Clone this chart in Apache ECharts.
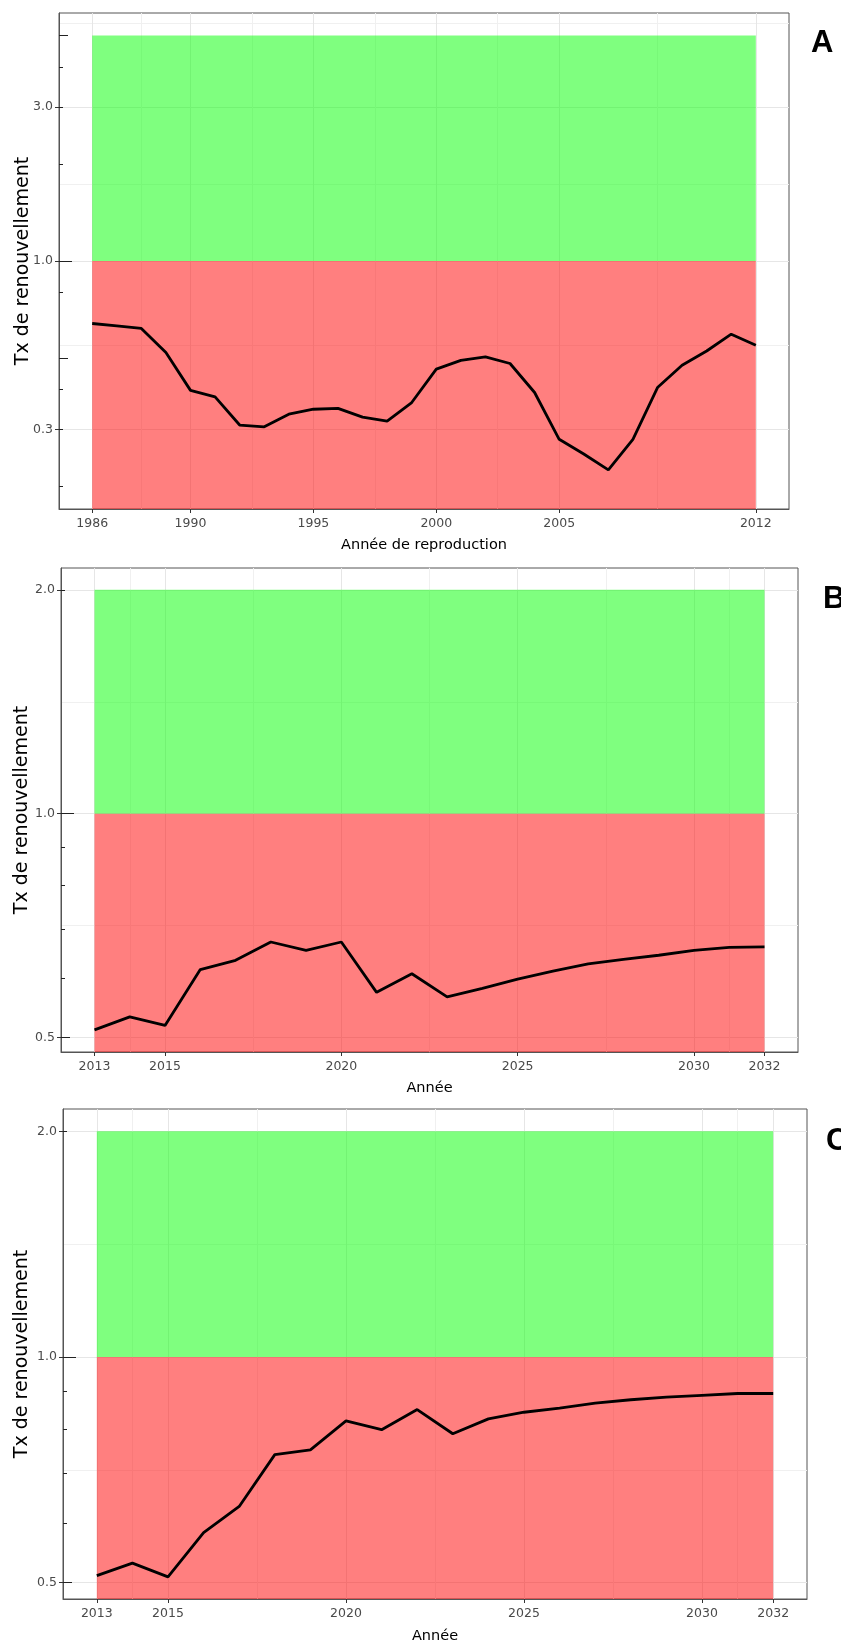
<!DOCTYPE html>
<html><head><meta charset="utf-8">
<script src="https://cdn.jsdelivr.net/npm/echarts@6/dist/echarts.min.js"></script>
<style>html,body{margin:0;padding:0;background:#fff}#c{width:841px;height:1645px}</style>
</head><body><div id="c"></div>
<script>
// ---------- data ----------
const yearsA = [1986,1987,1988,1989,1990,1991,1992,1993,1994,1995,1996,1997,1998,1999,2000,2001,2002,2003,2004,2005,2006,2007,2008,2009,2010,2011,2012,2013];
const valuesA = [0.640,0.629,0.618,0.520,0.397,0.379,0.310,0.306,0.335,0.347,0.349,0.328,0.319,0.364,0.462,0.492,0.504,0.481,0.391,0.280,0.252,0.225,0.280,0.405,0.475,0.526,0.593,0.548];
const yearsBC = [2013,2014,2015,2016,2017,2018,2019,2020,2021,2022,2023,2024,2025,2026,2027,2028,2029,2030,2031,2032];
const valuesB = [0.512,0.533,0.519,0.617,0.635,0.672,0.655,0.672,0.575,0.609,0.567,0.582,0.599,0.614,0.628,0.637,0.645,0.655,0.661,0.662];
const valuesC = [0.511,0.531,0.509,0.583,0.632,0.741,0.752,0.822,0.800,0.851,0.790,0.827,0.844,0.855,0.868,0.877,0.884,0.889,0.894,0.894];

const xTicksA = [1986,1990,1995,2000,2005,2013];
const xTickLabelsA = ['1986','1990','1995','2000','2005','2012'];
const xMinorA = [1988,1992.5,1997.5,2002.5,2009];
const xTicksBC = [2013,2015,2020,2025,2030,2032];
const xTickLabelsBC = ['2013','2015','2020','2025','2030','2032'];
const xMinorBC = [2014,2017.5,2022.5,2027.5,2031];

const yTicksA = [0.3,1,3];
const yMinorGridA = [0.5477,1.732,5.477];
const yLogTicksShortA = [0.2,0.3,0.4,0.8,2,3,4];
const yLogTicksLongA = [0.5,5];
const yTicksBC = [0.5,1,2];
const yMinorGridBC = [0.7071,1.4142];
const yLogTicksShortBC = [0.6,0.7,0.8,0.9,2];
const yLogTicksLongBC = [0.5];
const yLogTicksMajor = [1];

const threshold = 1;
const greenTopA = 5;
const greenTopBC = 2;
const redBottom = 0.01;

const panelLetters = ['A','B','C'];
const xTitles = ['Année de reproduction','Année','Année'];
const yTitle = 'Tx de renouvellement';

// ---------- layout ----------
const panels = [
  {years: yearsA, values: valuesA, xTicks: xTicksA, xLabels: xTickLabelsA, xMinor: xMinorA,
   yTicks: yTicksA, yMinor: yMinorGridA, yShort: yLogTicksShortA, yMid: yLogTicksLongA, top: greenTopA,
   grid: {left: 59, top: 13, width: 730, height: 496}, xMin: 1984.65, xMax: 2014.35, yMin: 0.1702, yMax: 5.875,
   xNameGap: 29, yNameGap: 26.5, letterPos: [811, 45]},
  {years: yearsBC, values: valuesB, xTicks: xTicksBC, xLabels: xTickLabelsBC, xMinor: xMinorBC,
   yTicks: yTicksBC, yMinor: yMinorGridBC, yShort: yLogTicksShortBC, yMid: yLogTicksLongBC, top: greenTopBC,
   grid: {left: 61, top: 568, width: 737, height: 484}, xMin: 2012.05, xMax: 2032.95, yMin: 0.478, yMax: 2.14,
   xNameGap: 29, yNameGap: 29, letterPos: [823, 601]},
  {years: yearsBC, values: valuesC, xTicks: xTicksBC, xLabels: xTickLabelsBC, xMinor: xMinorBC,
   yTicks: yTicksBC, yMinor: yMinorGridBC, yShort: yLogTicksShortBC, yMid: yLogTicksLongBC, top: greenTopBC,
   grid: {left: 63, top: 1109, width: 744, height: 490}, xMin: 2012.05, xMax: 2032.95, yMin: 0.4756, yMax: 2.142,
   xNameGap: 30, yNameGap: 31, letterPos: [826, 1143]}
];

const FONT = 'DejaVu Sans';
const AXIS_COL = '#4a4a4a';
const GRID_MAJOR = '#e6e6e6';
const GRID_MINOR = '#f0f0f0';

const option = {
  animation: false,
  backgroundColor: '#ffffff',
  grid: [], xAxis: [], yAxis: [], series: [], graphic: []
};

panels.forEach((p, i) => {
  option.grid.push(Object.assign({show: true, borderColor: '#555', borderWidth: 1, backgroundColor: '#fff',
    containLabel: false, outerBoundsMode: 'none'}, p.grid));
  // main x axis
  option.xAxis.push({
    type: 'value', gridIndex: i, min: p.xMin, max: p.xMax, position: 'bottom',
    name: xTitles[i], nameLocation: 'middle', nameGap: p.xNameGap, nameMoveOverlap: false,
    nameTextStyle: {fontFamily: FONT, fontSize: 14.5, color: '#000'},
    axisLine: {show: true, onZero: false, lineStyle: {color: '#555', width: 1}},
    axisTick: {show: true, length: 4, customValues: p.xTicks, lineStyle: {color: '#333'}},
    axisLabel: {show: true, customValues: p.xTicks, margin: 8, fontFamily: FONT, fontSize: 12.5, color: AXIS_COL,
      formatter: v => { const k = p.xTicks.indexOf(v); return k >= 0 ? p.xLabels[k] : ''; }},
    splitLine: {show: true, lineStyle: {color: GRID_MAJOR, width: 1}}
  });
  // minor x grid
  option.xAxis.push({
    type: 'value', gridIndex: i, min: p.xMin, max: p.xMax, position: 'bottom',
    axisLine: {show: false}, axisLabel: {show: false},
    axisTick: {show: false, customValues: p.xMinor},
    splitLine: {show: true, lineStyle: {color: GRID_MINOR, width: 1}}
  });
  const yBase = {type: 'log', gridIndex: i, min: p.yMin, max: p.yMax, position: 'left'};
  // main y axis
  option.yAxis.push(Object.assign({}, yBase, {
    name: yTitle, nameLocation: 'middle', nameRotate: 90, nameGap: p.yNameGap, nameMoveOverlap: false,
    nameTextStyle: {fontFamily: FONT, fontSize: 19, color: '#000'},
    axisLine: {show: true, onZero: false, lineStyle: {color: '#555', width: 1}},
    axisTick: {show: true, length: 4, customValues: p.yTicks, lineStyle: {color: '#333'}},
    axisLabel: {show: true, customValues: p.yTicks, margin: 6, fontFamily: FONT, fontSize: 12.5, color: AXIS_COL,
      formatter: v => Number(v).toFixed(1)},
    splitLine: {show: true, lineStyle: {color: GRID_MAJOR, width: 1}}
  }));
  // minor y grid
  option.yAxis.push(Object.assign({}, yBase, {
    axisLine: {show: false}, axisLabel: {show: false},
    axisTick: {show: false, customValues: p.yMinor},
    splitLine: {show: true, lineStyle: {color: GRID_MINOR, width: 1}}
  }));
  // inner log ticks: short, mid, long
  [[p.yShort, 4], [p.yMid, 9], [yLogTicksMajor, 13]].forEach(([vals, len]) => {
    option.yAxis.push(Object.assign({}, yBase, {
      axisLine: {show: false}, axisLabel: {show: false}, splitLine: {show: false},
      axisTick: {show: true, inside: true, length: len, customValues: vals, lineStyle: {color: '#222', width: 1}}
    }));
  });
  const first = p.years[0], last = p.years[p.years.length - 1];
  option.series.push({
    type: 'line', xAxisIndex: 2 * i, yAxisIndex: 5 * i,
    data: p.years.map((y, k) => [y, p.values[k]]),
    showSymbol: false, symbol: 'none', z: 5,
    lineStyle: {color: '#000', width: 2.8},
    markArea: {
      silent: true, z: 1,
      data: [
        [{xAxis: first, yAxis: threshold, itemStyle: {color: 'rgba(0,255,0,0.5)', opacity: 1}}, {xAxis: last, yAxis: p.top}],
        [{xAxis: first, yAxis: redBottom, itemStyle: {color: 'rgba(255,0,0,0.5)', opacity: 1}}, {xAxis: last, yAxis: threshold}]
      ]
    }
  });
  option.graphic.push({
    type: 'text', left: p.letterPos[0], top: p.letterPos[1] - 17,
    style: {text: panelLetters[i], font: 'bold 31px "Liberation Sans"', fill: '#000'}
  });
});

const chart = echarts.init(document.getElementById('c'), null, {renderer: 'canvas'});
chart.setOption(option);
</script>
</body></html>
